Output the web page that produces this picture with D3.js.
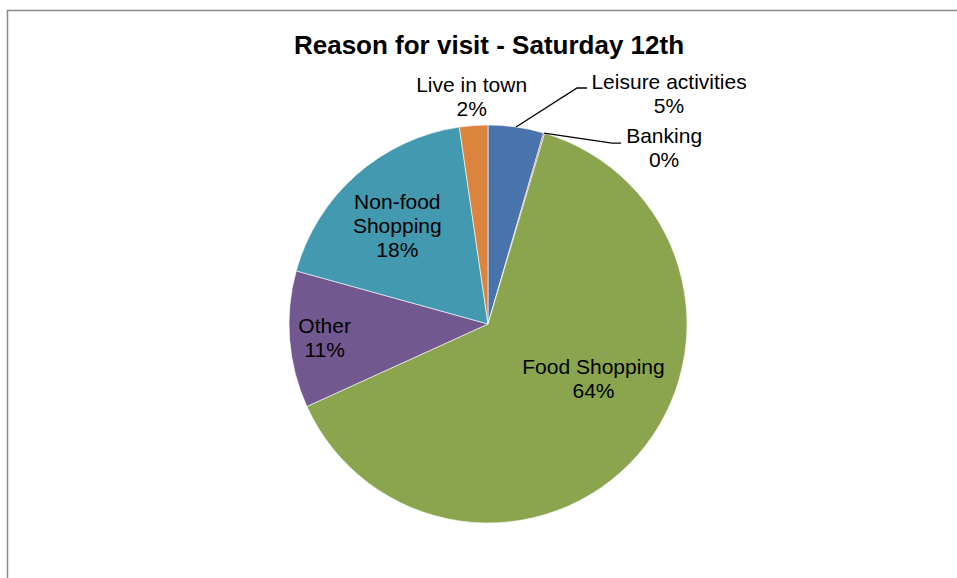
<!DOCTYPE html>
<html>
<head>
<meta charset="utf-8">
<script src="https://cdn.jsdelivr.net/npm/d3@7"></script>
<style>
  body { margin: 0; background: #fff; }
  text { font-family: "Liberation Sans", Arial, sans-serif; fill: #000; }
</style>
</head>
<body>
<svg width="957" height="578"></svg>
<script>
// chart data, clockwise from 12 o'clock
const categories = ['Leisure activities', 'Banking', 'Food Shopping', 'Other', 'Non-food Shopping', 'Live in town'];
const values = [4.5, 0.1, 63.6, 11.1, 18.4, 2.3];
const percentLabels = ['5%', '0%', '64%', '11%', '18%', '2%'];
const colours = ['#4874ab', '#a9443f', '#8ba54f', '#71588f', '#4299b0', '#db843d'];

const svg = d3.select('svg');
const width = +svg.attr('width');
const cx = 488, cy = 324, radius = 199;

// chart frame (only left and top edge are visible in the window)
svg.append('rect')
  .attr('x', 7.5).attr('y', 10.5)
  .attr('width', width + 20).attr('height', 600)
  .attr('fill', 'none')
  .attr('stroke', '#888')
  .attr('stroke-width', 1.5);

svg.append('text')
  .attr('x', cx + 1).attr('y', 54)
  .attr('text-anchor', 'middle')
  .style('font-size', '26px')
  .style('font-weight', 'bold')
  .text('Reason for visit - Saturday 12th');

const data = categories.map((c, i) => ({ name: c, value: values[i], pct: percentLabels[i], colour: colours[i] }));

const pie = d3.pie().sort(null).value(d => d.value);
const arcs = pie(data);
const arc = d3.arc().innerRadius(0).outerRadius(radius);

const g = svg.append('g').attr('transform', `translate(${cx}, ${cy})`);

g.selectAll('.slice')
  .data(arcs)
  .enter().append('path')
    .attr('class', 'slice')
    .attr('d', arc)
    .attr('fill', d => d.data.colour)
    .attr('stroke', '#fff')
    .attr('stroke-width', 0.6);

// label layout: inside labels sit on a radius at the slice mid angle (+ nudge),
// outside labels get a leader line from the arc edge
const layout = {
  'Food Shopping':      { inside: true, r: 119, nudge: -13.5, lines: ['Food Shopping'] },
  'Other':              { inside: true, r: 164, nudge: -0.5, lines: ['Other'] },
  'Non-food Shopping':  { inside: true, r: 133, nudge: -1.6, lines: ['Non-food', 'Shopping'] },
  'Live in town':       { inside: false, lines: ['Live in town'], dx: -2, dy: -34 },
  'Leisure activities': { inside: false, lines: ['Leisure activities'], leader: [[61, -39], [71, -39]], dx: 153, dy: -38 },
  'Banking':            { inside: false, lines: ['Banking'], leader: [[68, 10], [77, 10]], dx: 120, dy: 10 }
};
const lineH = 24;
const midAngle = d => (d.startAngle + d.endAngle) / 2;
const polar = (a, r) => [Math.sin(a) * r, -Math.cos(a) * r];

arcs.forEach(d => {
  const L = layout[d.data.name];
  const lines = L.lines.concat([d.data.pct]);
  let x, y;
  if (L.inside) {
    const p = polar(midAngle(d) + L.nudge * Math.PI / 180, L.r);
    x = p[0];
    y = p[1] - (lines.length - 1) * lineH / 2 + 6.5;
  } else {
    const p = polar(midAngle(d), radius);
    if (L.leader) {
      const pts = [p].concat(L.leader.map(o => [p[0] + o[0], p[1] + o[1]]));
      g.append('path')
        .attr('d', d3.line()(pts))
        .attr('fill', 'none')
        .attr('stroke', '#000')
        .attr('stroke-width', 1.3);
    }
    x = p[0] + L.dx;
    y = p[1] + L.dy;
  }
  const t = g.append('text')
    .attr('text-anchor', 'middle')
    .style('font-size', '21px');
  lines.forEach((s, i) => {
    t.append('tspan').attr('x', x).attr('y', y + i * lineH).text(s);
  });
});
</script>
</body>
</html>
